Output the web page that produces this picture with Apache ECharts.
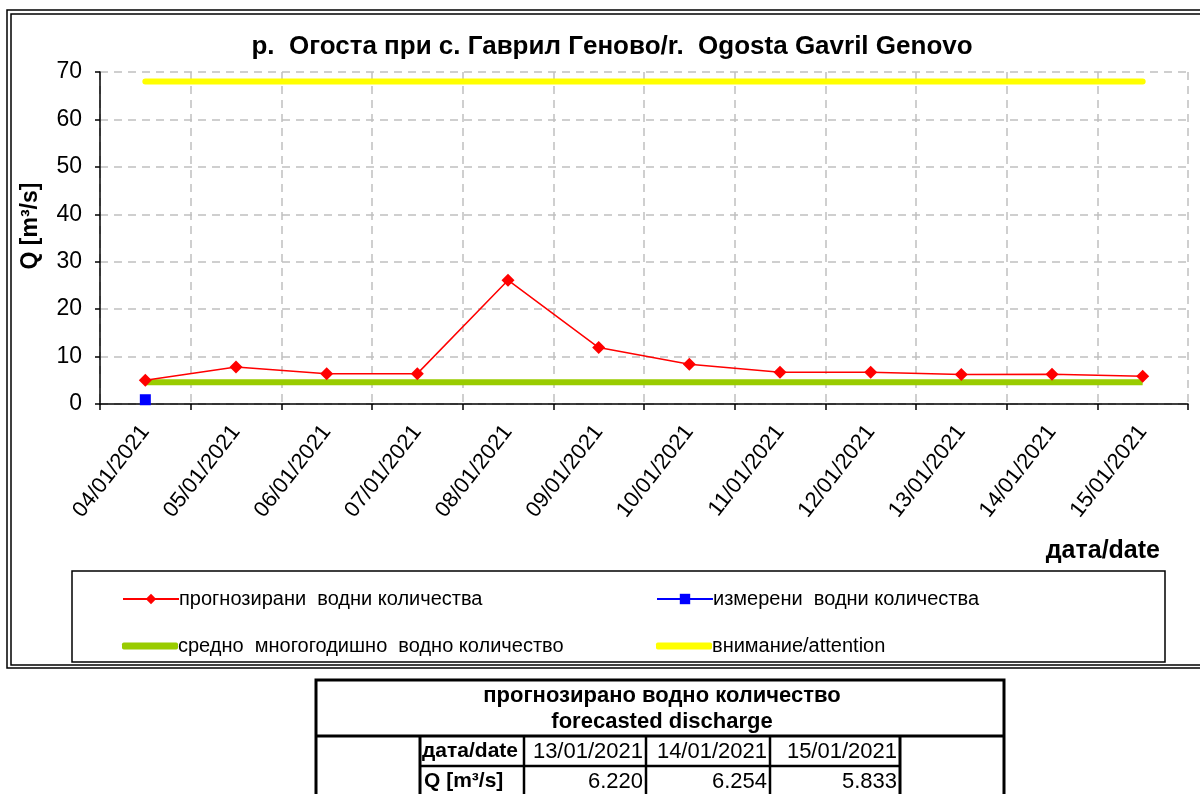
<!DOCTYPE html>
<html>
<head>
<meta charset="utf-8">
<script src="https://cdn.jsdelivr.net/npm/echarts@6/dist/echarts.min.js"></script>
<style>
html,body{margin:0;padding:0;background:#fff;}
#c{width:1200px;height:794px;}
</style>
</head>
<body>
<div id="c"></div>
<script>
// ---- data ----
const categories = ['04/01/2021','05/01/2021','06/01/2021','07/01/2021','08/01/2021','09/01/2021','10/01/2021','11/01/2021','12/01/2021','13/01/2021','14/01/2021','15/01/2021'];
const forecast = [5.0, 7.8, 6.4, 6.4, 26.1, 11.9, 8.4, 6.7, 6.7, 6.220, 6.254, 5.833];
const measured = [0.9, null, null, null, null, null, null, null, null, null, null, null];
const meanQ = [4.6, 4.6, 4.6, 4.6, 4.6, 4.6, 4.6, 4.6, 4.6, 4.6, 4.6, 4.6];
const attention = [68, 68, 68, 68, 68, 68, 68, 68, 68, 68, 68, 68];
const yTicks = [0, 10, 20, 30, 40, 50, 60, 70];
const seriesNames = ['прогнозирани  водни количества', 'измерени  водни количества', 'средно  многогодишно  водно количество', 'внимание/attention'];
const titleText = 'р.  Огоста при с. Гаврил Гeново/r.  Ogosta Gavril Genovo';
const yName = 'Q [m³/s]';
const xName = 'дата/date';
const tableTitle1 = 'прогнозирано водно количество';
const tableTitle2 = 'forecasted discharge';
const tableDates = categories.slice(-3);
const tableValues = forecast.slice(-3);

const FF = "'Liberation Sans', Arial, sans-serif";
const chart = echarts.init(document.getElementById('c'), null, {renderer: 'canvas'});

function line(x1, y1, x2, y2, w) {
  return {type: 'line', shape: {x1, y1, x2, y2}, style: {stroke: '#000', lineWidth: w}, silent: true};
}
function txt(x, y, text, opts, extra) {
  return Object.assign({type: 'text', x, y, style: Object.assign({text, fill: '#000', font: '18px ' + FF, textVerticalAlign: 'middle'}, opts || {})}, extra || {});
}

// table geometry
const colX = [316, 420, 524, 646, 770, 900, 1004];
const graphics = [
  // outer double frame
  {type: 'rect', shape: {x: 7, y: 10, width: 1205, height: 658}, style: {fill: null, stroke: '#000', lineWidth: 1.5}},
  {type: 'rect', shape: {x: 11, y: 14, width: 1205, height: 651}, style: {fill: null, stroke: '#000', lineWidth: 1.5}},
  // legend box
  {type: 'rect', shape: {x: 72, y: 571, width: 1093, height: 91}, style: {fill: null, stroke: '#000', lineWidth: 1.5}},
  // axis names
  txt(1160, 551, xName, {font: 'bold 25px ' + FF, textAlign: 'right'}),
  txt(31, 226, yName, {font: 'bold 23px ' + FF, textAlign: 'center'}, {rotation: Math.PI / 2}),
  // table
  {type: 'rect', shape: {x: 316, y: 680, width: 688, height: 140}, style: {fill: null, stroke: '#000', lineWidth: 3}},
  line(316, 736, 1004, 736, 3),
  line(420, 736, 420, 800, 3),
  line(900, 736, 900, 800, 3),
  line(524, 736, 524, 800, 2.5),
  line(646, 736, 646, 800, 2.5),
  line(770, 736, 770, 800, 2.5),
  line(420, 766, 900, 766, 2.5),
  txt(662, 696, tableTitle1, {font: 'bold 22px ' + FF, textAlign: 'center'}),
  txt(662, 722, tableTitle2, {font: 'bold 22px ' + FF, textAlign: 'center'}),
  txt(422, 751, 'дата/date', {font: 'bold 21px ' + FF, textAlign: 'left'}),
  txt(424, 781, yName, {font: 'bold 21px ' + FF, textAlign: 'left'})
];
tableDates.forEach((d, i) => {
  graphics.push(txt(colX[i + 3] - 3, 752, d, {font: '22px ' + FF, textAlign: 'right'}));
  graphics.push(txt(colX[i + 3] - 3, 782, tableValues[i].toFixed(3), {font: '22px ' + FF, textAlign: 'right'}));
});

const legendBase = {orient: 'horizontal', itemWidth: 56, itemHeight: 13, itemGap: 0,
  textStyle: {fontFamily: FF, fontSize: 20, color: '#000', padding: [0, 0, 0, -5]}, selectedMode: false};
const legends = [
  Object.assign({}, legendBase, {data: [seriesNames[0]], left: 117, top: 584}),
  Object.assign({}, legendBase, {data: [seriesNames[1]], left: 651, top: 584}),
  Object.assign({}, legendBase, {data: [{name: seriesNames[2], icon: 'roundRect'}], left: 117, top: 631, itemHeight: 7}),
  Object.assign({}, legendBase, {data: [{name: seriesNames[3], icon: 'roundRect'}], left: 651, top: 631, itemHeight: 7})
];

const option = {
  backgroundColor: '#fff',
  animation: false,
  title: {text: titleText, left: 607, top: 29, textAlign: 'center',
    textStyle: {fontFamily: FF, fontSize: 26, fontWeight: 'bold', color: '#000'}},
  legend: legends,
  grid: {left: 100, right: 12, top: 72, bottom: 390, containLabel: false},
  xAxis: {
    type: 'category', data: categories, boundaryGap: true,
    axisLine: {lineStyle: {color: '#000', width: 1.5}},
    axisTick: {show: true, length: 6, lineStyle: {color: '#000', width: 1.5}},
    axisLabel: {rotate: 52, fontFamily: FF, fontSize: 22, color: '#000', margin: 24},
    splitLine: {show: true, lineStyle: {color: '#c0c0c0', type: [8, 6], width: 1.5}}
  },
  yAxis: {
    type: 'value', min: 0, max: 70, interval: 10,
    axisLine: {show: true, lineStyle: {color: '#000', width: 1.5}},
    axisTick: {show: true, length: 5, lineStyle: {color: '#000', width: 1.5}},
    axisLabel: {fontFamily: FF, fontSize: 23, color: '#000', margin: 18,
      formatter: v => yTicks.includes(v) ? String(v) : ''},
    splitLine: {show: true, lineStyle: {color: '#c0c0c0', type: [8, 6], width: 1.5}}
  },
  series: [
    {name: seriesNames[0], type: 'line', data: forecast, symbol: 'diamond', symbolSize: 13,
      lineStyle: {color: '#ff0000', width: 1.5}, itemStyle: {color: '#ff0000'}, z: 5},
    {name: seriesNames[1], type: 'line', data: measured, symbol: 'rect', symbolSize: 11,
      lineStyle: {color: '#0000ff', width: 1.5}, itemStyle: {color: '#0000ff'}, z: 6},
    {name: seriesNames[2], type: 'line', data: meanQ, symbol: 'none',
      lineStyle: {color: '#99cc00', width: 6, cap: 'butt'}, itemStyle: {color: '#99cc00'}, z: 4},
    {name: seriesNames[3], type: 'line', data: attention, symbol: 'none',
      lineStyle: {color: '#ffff00', width: 6, cap: 'round'}, itemStyle: {color: '#ffff00'}, z: 4}
  ],
  graphic: graphics
};
chart.setOption(option);
</script>
</body>
</html>
